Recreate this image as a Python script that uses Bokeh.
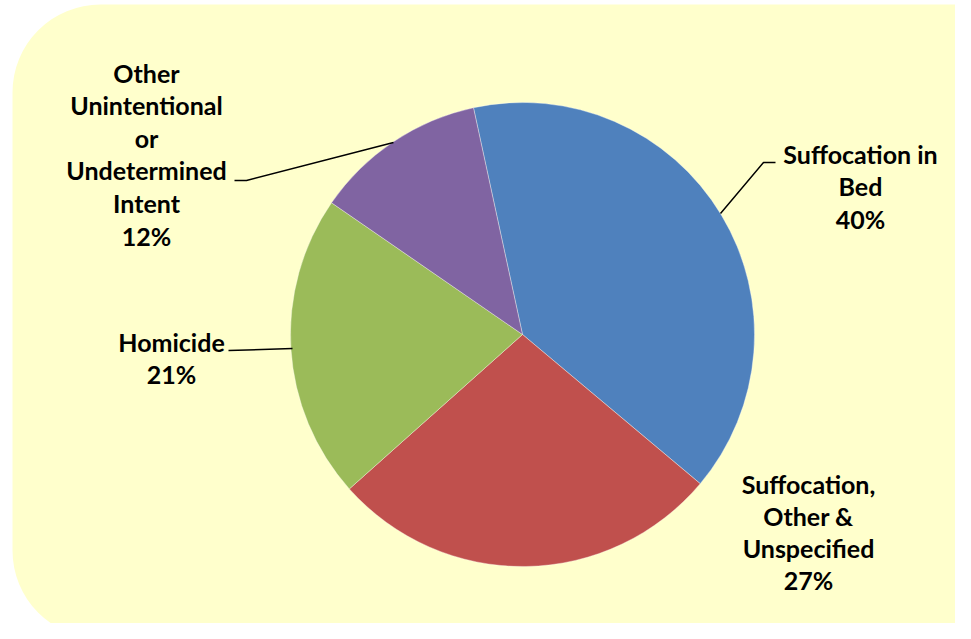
import numpy as np
from bokeh.plotting import figure
from bokeh.models import Range1d, BoxAnnotation, ColumnDataSource
from bokeh.core.properties import value
from bokeh.embed import file_html
from bokeh.resources import INLINE

# ---- data ----
categories = ["Suffocation in Bed", "Suffocation, Other & Unspecified",
              "Homicide", "Other Unintentional or Undetermined Intent"]
shares = [39.5, 27.3, 21.2, 12.0]          # slice sizes
pct_labels = ["40%", "27%", "21%", "12%"]  # printed labels
label_lines = [["Suffocation in", "Bed"],
               ["Suffocation,", "Other &", "Unspecified"],
               ["Homicide"],
               ["Other", "Unintentional", "or", "Undetermined", "Intent"]]
colors = ["#4F81BD", "#C0504D", "#9BBB59", "#8064A2"]

# ---- layout (screen pixel coordinates of the 971x639 picture) ----
PW, PH = 955, 623
SH = 639


def X(sx):
    return sx


def Y(sy):
    return SH - sy


cx, cy, rad = 522, 334, 232
start_deg = 102.2

label_anchor = [(860, 153), (808, 483), (171, 341), (146, 72)]
label_step = [32.6, 32.0, 32.4, 32.6]
leaders = [[(720, 213), (763, 162), (775, 162)],
           None,
           [(228, 350), (292, 348)],
           [(234, 180), (246, 180), (393, 142)]]

p = figure(width=PW, height=PH, output_backend="svg", toolbar_location=None,
           x_range=Range1d(0, PW), y_range=Range1d(SH - PH, SH),
           min_border=0, outline_line_color=None)
p.axis.visible = False
p.grid.visible = False
p.background_fill_color = "white"
p.border_fill_color = "white"

bg = BoxAnnotation(left=12, right=1060, top=Y(4), bottom=Y(638),
                   fill_color="#FFFFCC", fill_alpha=1.0, line_color=None,
                   border_radius=88, level="underlay")
p.add_layout(bg)

# wedges, clockwise from start_deg
vals = np.array(shares, dtype=float)
frac = vals / vals.sum()
cum = np.concatenate([[0], np.cumsum(frac)])
starts = np.radians(start_deg - cum[:-1] * 360)
ends = np.radians(start_deg - cum[1:] * 360)
src = ColumnDataSource(dict(start=starts, end=ends, color=colors, cat=categories))
p.wedge(x=X(cx), y=Y(cy), radius=rad, start_angle="start", end_angle="end",
        direction="clock", fill_color="color", line_color="white",
        line_alpha=0.35, line_width=1, source=src)

# labels
tx, ty, tt = [], [], []
for lines, pl, (ax, ay), st in zip(label_lines, pct_labels, label_anchor, label_step):
    all_lines = lines + [pl]
    for i, ln in enumerate(all_lines):
        tx.append(X(ax))
        ty.append(Y(ay + i * st))
        tt.append(ln)
p.text(x=tx, y=ty, text=tt, text_align="center", text_baseline="middle",
       text_font=value("Lato"), text_font_style="bold", text_font_size="25px",
       text_color="black")

# leader lines
for seg in leaders:
    if seg is None:
        continue
    p.line([X(a) for a, b in seg], [Y(b) for a, b in seg], line_color="black",
           line_width=1.5)

open("out.html", "w").write(file_html(p, INLINE))
